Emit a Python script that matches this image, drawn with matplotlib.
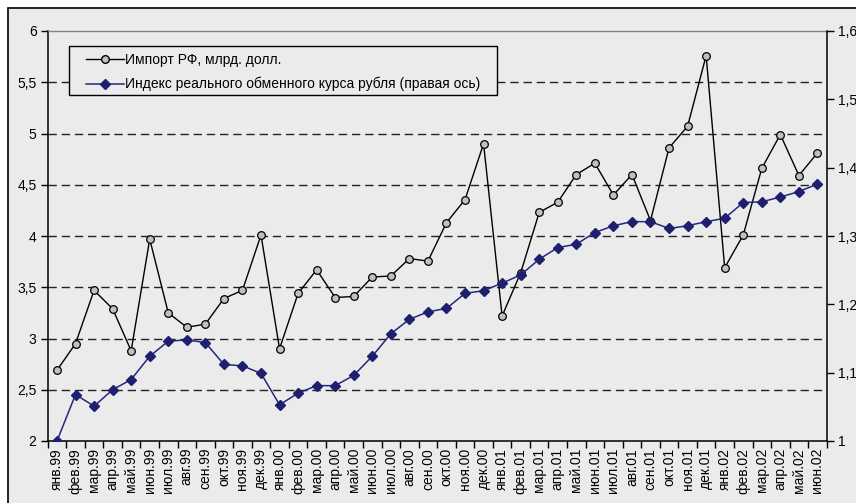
import matplotlib
matplotlib.use("Agg")
import matplotlib.pyplot as plt
from matplotlib.patches import Rectangle
from matplotlib.lines import Line2D
from matplotlib.ticker import FixedLocator

plt.rcParams['font.family'] = ['Liberation Sans', 'DejaVu Sans']

months = ["янв", "фев", "мар", "апр", "май", "июн", "июл", "авг", "сен", "окт", "ноя", "дек"]
categories = [f"{m}.{y}" for y in ["99", "00", "01", "02"] for m in months][:42]

imports = [2.69, 2.95, 3.47, 3.29, 2.88, 3.97, 3.25, 3.11, 3.14, 3.39, 3.47, 4.01,
           2.90, 3.44, 3.67, 3.40, 3.41, 3.60, 3.61, 3.78, 3.755, 4.13, 4.355, 4.90,
           3.22, 3.64, 4.23, 4.33, 4.60, 4.71, 4.40, 4.60, 4.15, 4.86, 5.07, 5.76,
           3.69, 4.01, 4.66, 4.99, 4.59, 4.81]

rate_index = [1.000, 1.068, 1.051, 1.075, 1.090, 1.124, 1.146, 1.148, 1.144, 1.112, 1.110, 1.099,
              1.053, 1.070, 1.081, 1.081, 1.096, 1.124, 1.157, 1.178, 1.189, 1.194, 1.216, 1.220,
              1.231, 1.243, 1.266, 1.283, 1.288, 1.305, 1.315, 1.321, 1.321, 1.311, 1.315, 1.321,
              1.326, 1.349, 1.350, 1.357, 1.365, 1.376]

left_ticks = [2, 2.5, 3, 3.5, 4, 4.5, 5, 5.5, 6]
left_labels = ["2", "2,5", "3", "3,5", "4", "4,5", "5", "5,5", "6"]
right_ticks = [1, 1.1, 1.2, 1.3, 1.4, 1.5, 1.6]
right_labels = ["1", "1,1", "1,2", "1,3", "1,4", "1,5", "1,6"]

label_imp = "Импорт РФ, млрд. долл."
label_rate = "Индекс реального обменного курса рубля (правая ось)"

W, H = 856, 503
BG = "#EBEBEB"
fig = plt.figure(figsize=(W / 100, H / 100), dpi=100)
fig.patch.set_facecolor("white")
fig.patches.append(Rectangle((8 / W, -0.1), 1.1, 1 - 8 / H + 0.1, transform=fig.transFigure,
                             facecolor=BG, edgecolor="black", linewidth=1.2, zorder=-5))

x0, x1 = 47.7 / W, 826.7 / W
y0, y1 = 1 - 441 / H, 1 - 31 / H
ax = fig.add_axes([x0, y0, x1 - x0, y1 - y0])
ax.set_facecolor(BG)
n = len(categories)
xs = list(range(n))
ax.set_xlim(-0.5, n - 0.5)
ax.set_ylim(2, 6)

for v in left_ticks[1:-1]:
    ax.axhline(v, color="#222222", linewidth=1.0, linestyle=(0, (6, 3.5)), zorder=1)

ax.plot(xs, imports, color="black", linewidth=1.0, marker="o", markersize=5.5,
        markerfacecolor="#C0C0C0", markeredgecolor="black", markeredgewidth=0.9, zorder=3)

ax.set_yticks(left_ticks)
ax.set_yticklabels(left_labels, fontsize=10)
ax.set_xticks(xs)
ax.set_xticklabels(categories, rotation=90, fontsize=10)
ax.tick_params(axis="x", which="major", length=0, pad=5)
ax.xaxis.set_minor_locator(FixedLocator([i - 0.5 for i in range(n + 1)]))
ax.tick_params(axis="x", which="minor", length=5, direction="out", width=1)
ax.tick_params(axis="y", length=5, direction="out", width=1, pad=3)
for s in ["left", "bottom"]:
    ax.spines[s].set_color("black")
    ax.spines[s].set_linewidth(1.1)
ax.spines["top"].set_color("#808080")
ax.spines["top"].set_linewidth(1.0)
ax.spines["right"].set_visible(False)

ax2 = ax.twinx()
ax2.set_ylim(1, 1.6)
ax2.plot(xs, rate_index, color="#262680", linewidth=1.1, marker="D", markersize=5,
         markerfacecolor="#1F1F70", markeredgecolor="#1F1F70", zorder=4)
ax2.set_yticks(right_ticks)
ax2.set_yticklabels(right_labels, fontsize=10)
ax2.tick_params(axis="y", length=5, direction="out", width=1, pad=3)
ax2.spines["right"].set_color("black")
ax2.spines["right"].set_linewidth(1.1)
for s in ["left", "top", "bottom"]:
    ax2.spines[s].set_visible(False)

# legend frame drawn manually
fig.patches.append(Rectangle((69 / W, 1 - 95 / H), (497 - 69) / W, 49 / H,
                             transform=fig.transFigure, facecolor=BG, edgecolor="black",
                             linewidth=1.0, zorder=5))

handles = [
    Line2D([], [], color="black", linewidth=1.0, marker="o", markersize=5.5,
           markerfacecolor="#C0C0C0", markeredgecolor="black"),
    Line2D([], [], color="#262680", linewidth=1.1, marker="D", markersize=5,
           markerfacecolor="#1F1F70", markeredgecolor="#1F1F70"),
]
leg = fig.legend(handles, [label_imp, label_rate], loc="upper left",
                 bbox_to_anchor=(86 / W, 1 - 53 / H), fontsize=10, frameon=False,
                 handlelength=2.7, handletextpad=0.1, borderpad=0, labelspacing=0.72,
                 borderaxespad=0)
leg.set_zorder(6)

fig.savefig("out.png", dpi=100)
